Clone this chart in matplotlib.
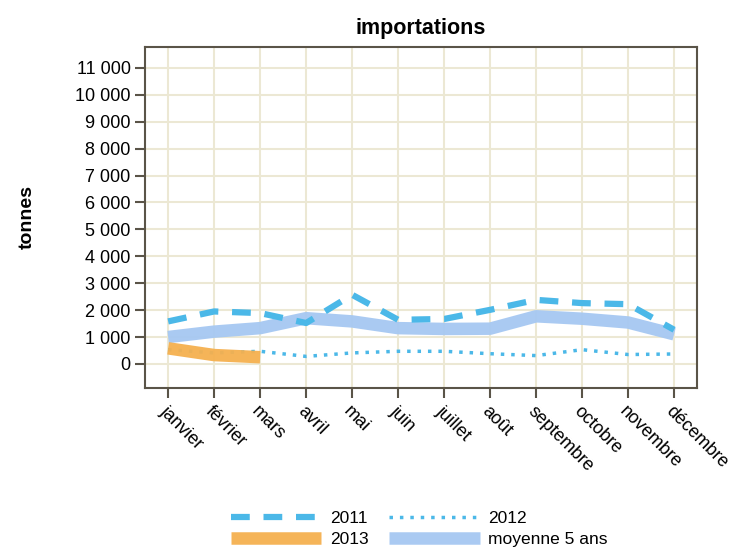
import matplotlib.pyplot as plt
from matplotlib.ticker import FuncFormatter

plt.rcParams['font.family'] = ['Liberation Sans', 'DejaVu Sans']

# Données (tonnes)
mois = ["janvier", "février", "mars", "avril", "mai", "juin", "juillet",
        "août", "septembre", "octobre", "novembre", "décembre"]
v2011 = [1580, 1950, 1890, 1520, 2570, 1640, 1670, 2010, 2380, 2260, 2220, 1270]
v2012 = [530, 410, 470, 280, 410, 470, 470, 380, 310, 530, 350, 370]
v2013 = [580, 330, 250]
moyenne = [1000, 1200, 1330, 1700, 1580, 1330, 1300, 1310, 1770, 1680, 1540, 1100]

bleu = "#4bb8e8"
orange = "#f5b04f"
bleu_clair = "#a6c8f2"
cadre = "#5a5448"
grille = "#ece8d4"

fig = plt.figure(figsize=(7.33, 5.51), dpi=100)
ax = fig.add_axes([0.198, 0.296, 0.753, 0.619])

x = list(range(len(mois)))
l_moy, = ax.plot(x, moyenne, color=bleu_clair, lw=9, solid_capstyle='butt', alpha=0.95, zorder=2)
l_2011, = ax.plot(x, v2011, color=bleu, lw=4.5, dashes=(3, 2.2), zorder=3)
l_2012, = ax.plot(x, v2012, color=bleu, lw=2.5, dashes=(1, 2.0), zorder=3)
l_2013, = ax.plot(x[:len(v2013)], v2013, color=orange, lw=9, solid_capstyle='butt', alpha=0.95, zorder=4)

ax.set_xlim(-0.5, 11.5)
ax.set_ylim(-890, 11780)
ax.set_yticks(range(0, 11001, 1000))
ax.yaxis.set_major_formatter(FuncFormatter(lambda v, p: f"{int(v):,}".replace(",", " ")))
ax.set_xticks(x)
ax.set_xticklabels(mois, rotation=-45, ha='left', va='top', rotation_mode='anchor')

ax.grid(True, color=grille, lw=1.5, zorder=0)
ax.set_axisbelow(True)
for s in ax.spines.values():
    s.set_color(cadre)
    s.set_linewidth(1.5)
ax.tick_params(axis='both', colors=cadre, length=7, width=1.5, labelsize=13, labelcolor='black')
ax.tick_params(axis='x', pad=4)

ax.set_title("importations", fontsize=15.5, fontweight='bold', pad=9)
ax.set_ylabel("tonnes", fontsize=14, fontweight='bold', labelpad=28)

fig.legend([l_2011, l_2013, l_2012, l_moy], ["2011", "2013", "2012", "moyenne 5 ans"],
           loc='center', bbox_to_anchor=(0.572, 0.04),
           ncol=2, frameon=False, fontsize=12.5, handlelength=5.2, columnspacing=1.2,
           handletextpad=0.5, labelspacing=0.3)

fig.savefig("out.png", dpi=100)
